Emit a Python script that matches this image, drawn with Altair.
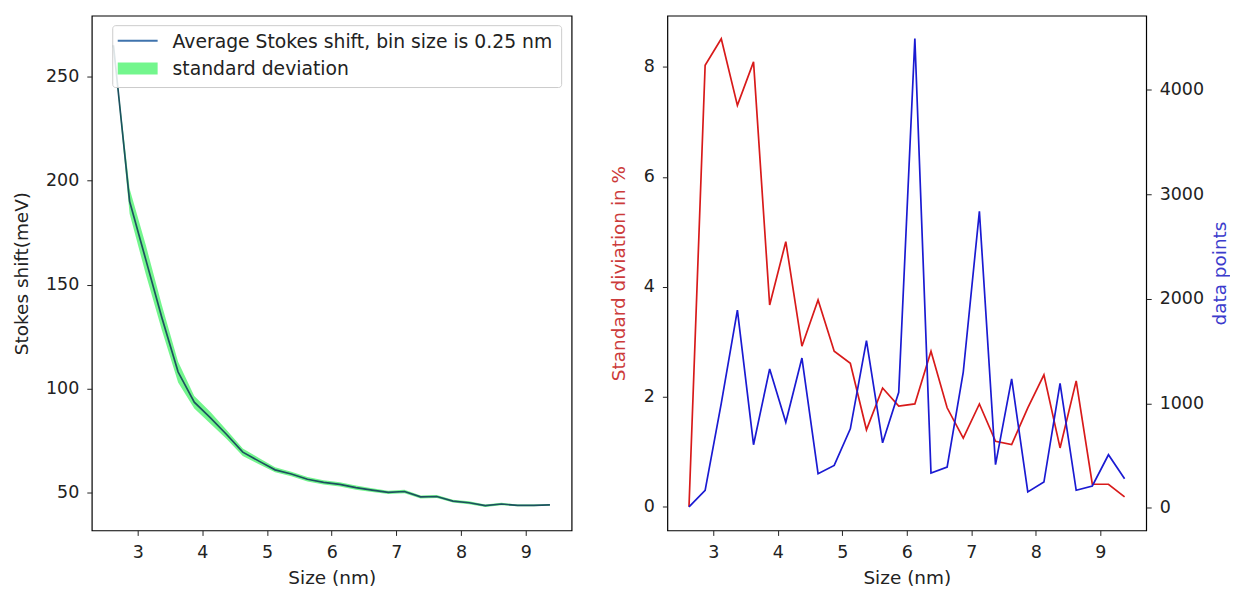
import altair as alt
import pandas as pd

# ---- data ----
size_nm = [2.625, 2.875, 3.125, 3.375, 3.625, 3.875, 4.125, 4.375, 4.625, 4.875,
           5.125, 5.375, 5.625, 5.875, 6.125, 6.375, 6.625, 6.875, 7.125, 7.375,
           7.625, 7.875, 8.125, 8.375, 8.625, 8.875, 9.125, 9.375]
mean_shift = [265, 190, 162, 134, 108, 93.5, 86, 78, 69.5, 65.2,
              61, 59, 56.5, 55, 54, 52.5, 51.3, 50.2, 50.6, 48,
              48.2, 46, 45.2, 43.8, 44.6, 43.9, 43.9, 44.2]
std_shift = [0, 6, 7, 6, 5, 3, 2.8, 2.2, 1.8, 1.5,
             1.2, 1.1, 1.1, 1.0, 1.0, 1.0, 0.9, 0.8, 0.8, 0.7,
             0.7, 0.7, 0.7, 0.6, 0.6, 0.4, 0.4, 0.3]
std_pct = [0.0, 8.03, 8.51, 7.30, 8.09, 3.67, 4.82, 2.92, 3.76, 2.83,
           2.61, 1.40, 2.16, 1.83, 1.87, 2.83, 1.80, 1.25, 1.87, 1.19,
           1.13, 1.80, 2.40, 1.07, 2.29, 0.41, 0.41, 0.18]
n_points = [10, 169, 1000, 1892, 605, 1330, 820, 1434, 328, 407,
            757, 1600, 623, 1106, 4490, 334, 391, 1300, 2837, 414,
            1234, 153, 248, 1192, 169, 210, 509, 280]

x_ticks = [3, 4, 5, 6, 7, 8, 9]
shift_ticks = [50, 100, 150, 200, 250]
pct_ticks = [0, 2, 4, 6, 8]
count_ticks = [0, 1000, 2000, 3000, 4000]

legend_labels = ["Average Stokes shift, bin size is 0.25 nm", "standard deviation"]

df = pd.DataFrame({"size": size_nm, "mean": mean_shift, "sd": std_shift,
                   "pct": std_pct, "n": n_points})
df["lo"] = df["mean"] - df["sd"]
df["hi"] = df["mean"] + df["sd"]

FONT = "DejaVu Sans"
W, H = 481, 516

xscale = alt.Scale(domain=[2.29, 9.71], nice=False, zero=False)


def xaxis():
    return alt.Axis(values=x_ticks, title="Size (nm)", titleFontSize=18.5,
                    titlePadding=8, labelPadding=8, format="d")


# ---- left panel ----
band = alt.Chart(df).mark_area(color="#00ee30", opacity=0.55).encode(
    x=alt.X("size:Q", scale=xscale, axis=xaxis()),
    y=alt.Y("lo:Q", scale=alt.Scale(domain=[31.9, 279.2], nice=False, zero=False),
            axis=alt.Axis(values=shift_ticks, title="Stokes shift(meV)",
                          titlePadding=14, labelPadding=8)),
    y2="hi:Q",
)
mean_line = alt.Chart(df).mark_line(color="#1d5060", strokeWidth=1.7).encode(
    x=alt.X("size:Q", scale=xscale, axis=xaxis()), y="mean:Q"
)

one = pd.DataFrame({"k": [0]})
leg_box = alt.Chart(one).mark_rect(fill="white", fillOpacity=0.85, stroke="#cccccc",
                                   strokeWidth=1, cornerRadius=3).encode(
    x=alt.value(21), x2=alt.value(471), y=alt.value(10), y2=alt.value(72))
leg_line = alt.Chart(one).mark_rule(color="#3f73ad", strokeWidth=2).encode(
    x=alt.value(26), x2=alt.value(66), y=alt.value(25))
leg_patch = alt.Chart(one).mark_rect(color="#00ee30", opacity=0.55).encode(
    x=alt.value(26), x2=alt.value(66), y=alt.value(47), y2=alt.value(59))
leg_t1 = alt.Chart(one).mark_text(text=legend_labels[0], align="left", baseline="middle",
                                  font=FONT, fontSize=18.8, color="#222222").encode(
    x=alt.value(81), y=alt.value(26))
leg_t2 = alt.Chart(one).mark_text(text=legend_labels[1], align="left", baseline="middle",
                                  font=FONT, fontSize=18.8, color="#222222").encode(
    x=alt.value(81), y=alt.value(53))

left = alt.layer(band, mean_line, leg_box, leg_line, leg_patch, leg_t1, leg_t2).properties(
    width=W, height=H)

# ---- right panel ----
red = alt.Chart(df).mark_line(color="#d81a1a", strokeWidth=1.7).encode(
    x=alt.X("size:Q", scale=xscale, axis=xaxis()),
    y=alt.Y("pct:Q", scale=alt.Scale(domain=[-0.43, 8.93], nice=False, zero=False),
            axis=alt.Axis(values=pct_ticks, title="Standard diviation in %", orient="left",
                          titleColor="#cc3b3b", titlePadding=15, labelPadding=8)),
)
blue = alt.Chart(df).mark_line(color="#1a1ad2", strokeWidth=1.7).encode(
    x=alt.X("size:Q", scale=xscale, axis=xaxis()),
    y=alt.Y("n:Q", scale=alt.Scale(domain=[-215, 4709], nice=False, zero=False),
            axis=alt.Axis(values=count_ticks, title="data points", orient="right",
                          titleColor="#3b3bcc", titleAngle=270, titleBaseline="top",
                          titlePadding=7, labelPadding=8, format="d")),
)
right = alt.layer(red, blue).resolve_scale(y="independent").properties(width=480, height=H)

chart = alt.hconcat(left, right, spacing=36).properties(
    padding={"left": 3, "top": 6, "right": 0, "bottom": 0}
).configure_view(stroke="black", strokeWidth=1.2).configure_axis(
    labelFont=FONT, titleFont=FONT, labelFontSize=17.5, titleFontSize=18.5,
    titleFontWeight="normal", labelColor="#222222", titleColor="#222222",
    tickColor="#222222", tickSize=5, tickWidth=1, domain=False, grid=False,
).configure_axisX(titleFontSize=18.5)

chart.save("out.html", embed_options={"renderer": "svg", "actions": False})
